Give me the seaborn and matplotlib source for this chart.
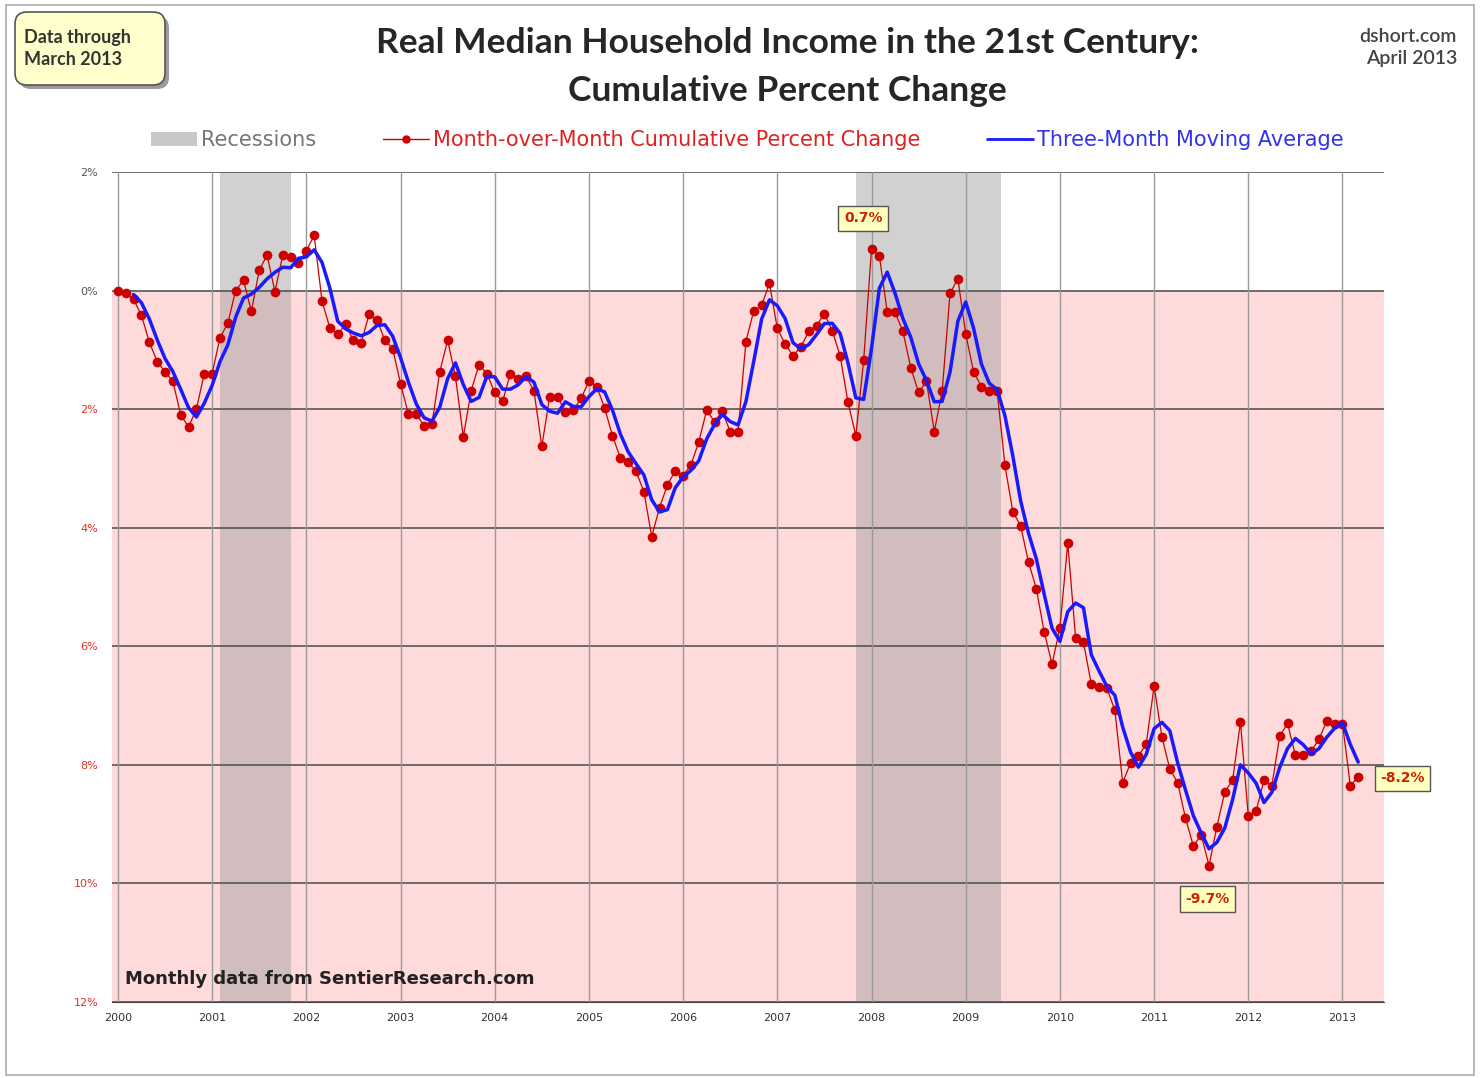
import matplotlib
matplotlib.use("Agg")
import matplotlib.pyplot as plt
import matplotlib.patches as mpatches
from matplotlib.lines import Line2D
import numpy as np
import pandas as pd
import seaborn as sns

# monthly cumulative percent change, Jan 2000 .. Mar 2013
y2000 = [0.0, -0.05, -0.15, -0.42, -0.87, -1.2, -1.37, -1.53, -2.1, -2.3, -2.0, -1.4]
y2001 = [-1.4, -0.8, -0.55, 0.0, 0.17, -0.35, 0.34, 0.6, -0.02, 0.6, 0.57, 0.46]
y2002 = [0.67, 0.93, -0.18, -0.63, -0.74, -0.57, -0.84, -0.88, -0.4, -0.49, -0.84, -0.98]
y2003 = [-1.57, -2.08, -2.08, -2.28, -2.25, -1.37, -0.84, -1.45, -2.47, -1.69, -1.25, -1.4]
y2004 = [-1.72, -1.87, -1.4, -1.5, -1.45, -1.69, -2.63, -1.79, -1.79, -2.05, -2.02, -1.82]
y2005 = [-1.53, -1.62, -1.98, -2.45, -2.82, -2.89, -3.05, -3.39, -4.15, -3.66, -3.28, -3.04]
y2006 = [-3.12, -2.94, -2.55, -2.02, -2.21, -2.04, -2.38, -2.38, -0.86, -0.34, -0.25, 0.12]
y2007 = [-0.64, -0.9, -1.1, -0.95, -0.69, -0.59, -0.39, -0.68, -1.1, -1.88, -2.45, -1.18]
y2008 = [0.7, 0.59, -0.36, -0.37, -0.69, -1.3, -1.72, -1.53, -2.38, -1.7, -0.05, 0.2]
y2009 = [-0.73, -1.37, -1.62, -1.7, -1.69, -2.95, -3.73, -3.97, -4.58, -5.03, -5.76, -6.3]
y2010 = [-5.69, -4.26, -5.86, -5.93, -6.64, -6.69, -6.71, -7.08, -8.3, -7.97, -7.85, -7.65]
y2011 = [-6.67, -7.53, -8.07, -8.3, -8.9, -9.37, -9.18, -9.7, -9.04, -8.46, -8.26, -7.28]
y2012 = [-8.87, -8.78, -8.26, -8.35, -7.52, -7.3, -7.84, -7.84, -7.77, -7.57, -7.26, -7.31]
y2013 = [-7.31, -8.35, -8.2]

years = list(range(2000, 2014))
# recessions in month index (0 = Jan 2000)
recession_start = [13, 94]
recession_end = [22, 112.5]

values = (y2000 + y2001 + y2002 + y2003 + y2004 + y2005 + y2006 + y2007
          + y2008 + y2009 + y2010 + y2011 + y2012 + y2013)
df = pd.DataFrame({"month": np.arange(len(values)), "change": values})
df["ma3"] = df["change"].rolling(3).mean()

sns.set_style("white")
plt.rcParams["font.family"] = ["DejaVu Sans"]

fig = plt.figure(figsize=(14.8, 10.78), dpi=100)
ax = fig.add_axes([0.0757, 0.0705, 0.8595, 0.77])

ax.set_xlim(-0.75, 161.3)
ax.set_ylim(-12, 2)

# pink area below zero and recession shading
ax.axhspan(-12, 0, color="#FFDADA", zorder=0)
for s, e in zip(recession_start, recession_end):
    ax.axvspan(s, e, facecolor="#9a9a9a", alpha=0.45, edgecolor="none", zorder=1)

for v in range(-12, 3, 2):
    ax.axhline(v, color="#555555", lw=1.2, zorder=2)
for k in range(len(years)):
    ax.axvline(k * 12, color="#999999", lw=1.0, zorder=2)

sns.lineplot(data=df, x="month", y="change", ax=ax, color="#CC0000", lw=0.9,
             marker="o", markersize=7, markeredgewidth=0, zorder=4)
sns.lineplot(data=df, x="month", y="ma3", ax=ax, color="#1a1aff", lw=2.5, zorder=5)

ax.set_xlabel("")
ax.set_ylabel("")
ax.set_xticks([k * 12 for k in range(len(years))])
ax.set_xticklabels([str(y) for y in years], fontsize=8, color="#333333")
yt = list(range(2, -13, -2))
ax.set_yticks(yt)
ax.set_yticklabels([f"{abs(v)}%" for v in yt], fontsize=8)
for lab, v in zip(ax.get_yticklabels(), yt):
    lab.set_color("#555555" if v >= 0 else "#E03020")
ax.tick_params(axis="y", length=4, color="#555555", pad=6)
ax.tick_params(axis="x", length=0, pad=8)
for sp in ["top", "right", "left"]:
    ax.spines[sp].set_visible(False)
ax.spines["bottom"].set_color("#444444")

# annotations on highlighted points
box = dict(boxstyle="square,pad=0.4", fc="#FFFFC0", ec="#555555", lw=1)
i_peak = 96
i_min = int(np.argmin(values))
i_last = len(values) - 1
ax.annotate(f"{values[i_peak]:.1f}%", xy=(i_peak, values[i_peak]), xytext=(-6, 22),
            textcoords="offset points", ha="center", va="center", fontsize=10,
            fontweight="bold", color="#CC2200", bbox=box, zorder=6)
ax.annotate(f"{values[i_min]:.1f}%", xy=(i_min, values[i_min]), xytext=(-1, -24),
            textcoords="offset points", ha="center", va="center", fontsize=10,
            fontweight="bold", color="#CC2200", bbox=box, zorder=6)
ax.annotate(f"{values[i_last]:.1f}%", xy=(i_last, values[i_last]), xytext=(32, -1),
            textcoords="offset points", ha="center", va="center", fontsize=10,
            fontweight="bold", color="#CC2200", bbox=box, zorder=6,
            annotation_clip=False)

ax.text(0.0105, 0.022, "Monthly data from SentierResearch.com", transform=ax.transAxes,
        fontsize=13, fontweight="bold", color="#222222", zorder=6)

# titles and header texts
fig.text(0.532, 0.960, "Real Median Household Income in the 21st Century:",
         ha="center", va="center", fontsize=25.5, fontweight="bold", family="Lato")
fig.text(0.532, 0.916, "Cumulative Percent Change",
         ha="center", va="center", fontsize=25.5, fontweight="bold", family="Lato")
fig.text(0.9845, 0.956, "dshort.com\nApril 2013", ha="right", va="center",
         fontsize=14, color="#444444", linespacing=1.3, family="Lato", fontweight="semibold")

# "data through" note: rounded box with a drop shadow (inches from bottom-left)
shadow = mpatches.FancyBboxPatch((0.19, 9.89), 1.5, 0.73,
                                 boxstyle="round,pad=0,rounding_size=0.12",
                                 transform=fig.dpi_scale_trans, fc="#9a9a9a", ec="none")
note = mpatches.FancyBboxPatch((0.15, 9.93), 1.5, 0.73,
                               boxstyle="round,pad=0,rounding_size=0.12",
                               transform=fig.dpi_scale_trans, fc="#FFFFCC",
                               ec="#555555", lw=1.2)
fig.patches.extend([shadow, note])
fig.text(0.0165, 0.955, "Data through\nMarch 2013", ha="left", va="center",
         fontsize=13, color="#333333", fontweight="bold", linespacing=1.3, family="Lato")

# legend
handles = [
    mpatches.Patch(facecolor="#c8c8c8", edgecolor="none", label="Recessions"),
    Line2D([0], [0], color="#CC0000", lw=1, marker="o", markersize=5,
           label="Month-over-Month Cumulative Percent Change"),
    Line2D([0], [0], color="#1a1aff", lw=2, label="Three-Month Moving Average"),
]
fig.legend(handles=handles, loc="center", bbox_to_anchor=(0.505, 0.870), ncol=3,
           frameon=False, fontsize=15, handlelength=2.2, handletextpad=0.2,
           columnspacing=3.2, labelcolor=["#777777", "#DD2222", "#3333EE"])

fig.patches.append(mpatches.Rectangle((0.004, 0.003), 0.992, 0.992, transform=fig.transFigure,
                                      fill=False, ec="#aaaaaa", lw=1.2))

fig.savefig("out.png", dpi=100)
